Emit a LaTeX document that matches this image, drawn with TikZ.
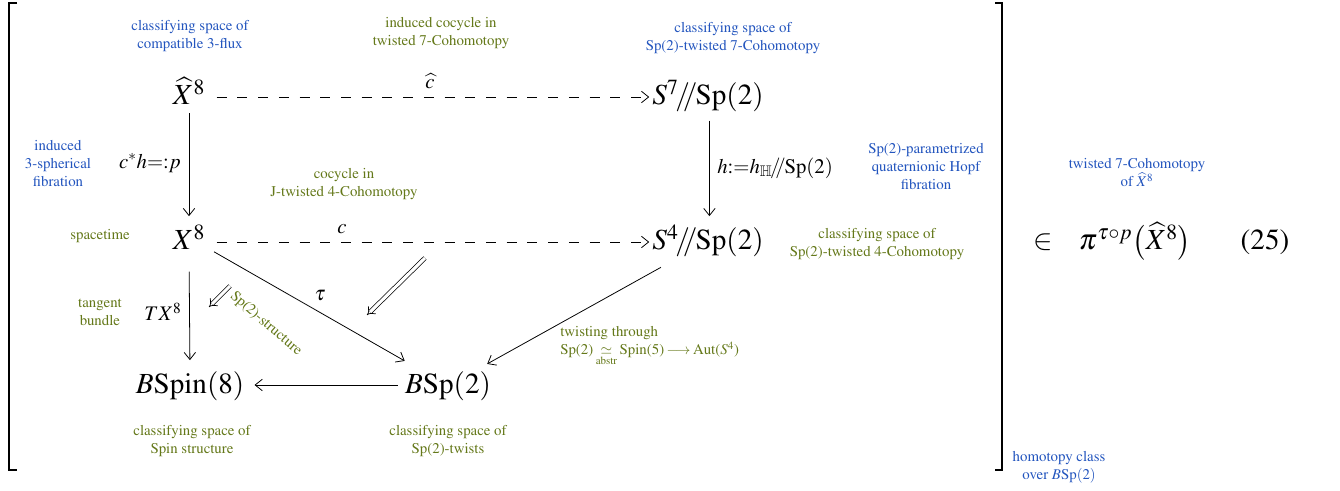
\documentclass[tikz,border=0pt]{standalone}
\usepackage[OT1]{fontenc}
\usepackage{amsmath,amssymb}
\usepackage{mathptmx}
\usetikzlibrary{arrows.meta}
\definecolor{lblue}{RGB}{35,85,190}
\definecolor{lolive}{RGB}{100,120,25}
\newcommand{\hquot}{\mkern-2mu{/\mkern-4.5mu/}\mkern-1mu}
\begin{document}
\begin{tikzpicture}[x=0.7pt,y=-0.7pt,
  obj/.style={font=\fontsize{20.4}{24}\selectfont, inner sep=0pt, anchor=base},
  lbl/.style={font=\fontsize{14.5}{17}\selectfont, inner sep=0pt},
  bl/.style={text=lblue, font=\fontsize{10.4}{12.6}\selectfont, align=center, inner sep=0pt},
  ol/.style={text=lolive, font=\fontsize{10.4}{12.6}\selectfont, align=center, inner sep=0pt},
  arr/.style={-{Straight Barb[length=5pt,width=8pt]}, line width=0.55pt},
  dasharr/.style={arr, dash pattern=on 7pt off 7.5pt},
  twocell/.style={-{Implies}, double, double distance=2.2pt, line width=0.5pt},
  brk/.style={line width=1.3pt}]
\useasboundingbox (0,0) rectangle (1340,491);

% brackets
\coordinate (lbt) at (17,3); \coordinate (lbb) at (17,470);
\coordinate (rbt) at (995,3); \coordinate (rbb) at (995,470);
\draw[brk] (lbt) -- ++(-8,0) |- (lbb);
\draw[brk] (rbt) -- ++(7,0) |- (rbb);

% objects
\node[obj] (xh)  at (189,105) {$\widehat{X}^8$};
\node[obj] (s7)  at (708,105) {$S^7\hquot\mathrm{Sp}(2)$};
\node[obj] (x)   at (189,250) {$X^8$};
\node[obj] (s4)  at (708,250) {$S^4\hquot\mathrm{Sp}(2)$};
\node[obj] (bspin) at (190,393) {$B\mathrm{Spin}(8)$};
\node[obj] (bsp) at (448,393) {$B\mathrm{Sp}(2)$};

\node[obj] (in) at (1043,250) {$\in$};
\node[obj] (pi) at (1135,250) {$\pi^{\tau\circ p}\big(\widehat{X}^8\big)$};
\node[obj] (eq) at (1265,250) {(25)};

% arrows
\draw[dasharr, shorten <=8pt, shorten >=2pt] ([yshift=5.6pt]xh.base east) -- ([yshift=5.6pt]s7.base west);
\draw[dasharr, shorten <=8pt, shorten >=2pt] ([yshift=5.6pt]x.base east) -- ([yshift=5.6pt]s4.base west);
\draw[arr, shorten <=5.6pt, shorten >=6pt] (xh.south) -- (x.north);
\draw[arr, shorten <=5.6pt, shorten >=6pt] ([xshift=1pt]s7.south) -- ([xshift=1pt]s4.north);
\draw[arr, shorten <=15pt, shorten >=7.5pt] (x.south) -- (bspin.north);
\draw[arr, shorten <=5pt, shorten >=7pt] ([yshift=5.6pt]bsp.base west) -- ([yshift=5.6pt]bspin.base east);
\draw[arr, shorten <=7pt, shorten >=14pt] (x) -- (bsp);
\draw[arr, shorten <=14pt, shorten >=10pt] (s4) -- (bsp);

% 2-cells
\coordinate (d1s) at (425,258); \coordinate (d1e) at (367,315);
\coordinate (d2s) at (230,286); \coordinate (d2e) at (209,307);
\draw[twocell] (d1s) -- (d1e);
\draw[twocell] (d2s) -- (d2e);

% arrow labels
\node[lbl] (lc) at (342,229) {$c$};
\node[lbl] (lch) at (430,81) {$\widehat{c}$};
\node[lbl] (lp) at (150,163) {$c^*h{=:}p$};
\node[lbl, anchor=west] (lh) at (717,168) {$h{:=}h_{\mathbb{H}}\hquot\mathrm{Sp}(2)$};
\node[lbl] (ltau) at (320,296) {$\tau$};
\node[lbl] (ltx) at (163,312) {$TX^8$};

% annotations
\node[bl] (a1) at (190,36) {classifying space of\\compatible 3-flux};
\node[ol] (a2) at (441,33) {induced cocycle in\\twisted 7-Cohomotopy};
\node[bl] (a3) at (733,38) {classifying space of\\Sp(2)-twisted 7-Cohomotopy};
\node[bl] (a4) at (58,164) {induced\\3-spherical\\fibration};
\node[ol] (a5) at (344,184) {cocycle in\\J-twisted 4-Cohomotopy};
\node[bl] (a6) at (926,167) {Sp(2)-parametrized\\quaternionic Hopf\\fibration};
\node[bl] (a7) at (1137,173) {twisted 7-Cohomotopy\\of $\widehat{X}^8$};
\node[ol] (a8) at (100,236) {spacetime};
\node[ol] (a9) at (877,244) {classifying space of\\Sp(2)-twisted 4-Cohomotopy};
\node[ol] (a10) at (100,312) {tangent\\bundle};
\node[ol, align=left, anchor=north west] (a11) at (560,326) {twisting through\\Sp(2)\,$\underset{\text{abstr}}{\simeq}$\,Spin(5)\,$\longrightarrow$\,Aut($S^4$)};
\node[ol] (a12) at (192,441) {classifying space of\\Spin structure};
\node[ol] (a13) at (448,441) {classifying space of\\Sp(2)-twists};
\node[bl] (a14) at (1059,467) {homotopy class\\over $B\mathrm{Sp}(2)$};
\node[ol, rotate=-41] (a15) at (266,324) {Sp(2)-structure};
\end{tikzpicture}
\end{document}
